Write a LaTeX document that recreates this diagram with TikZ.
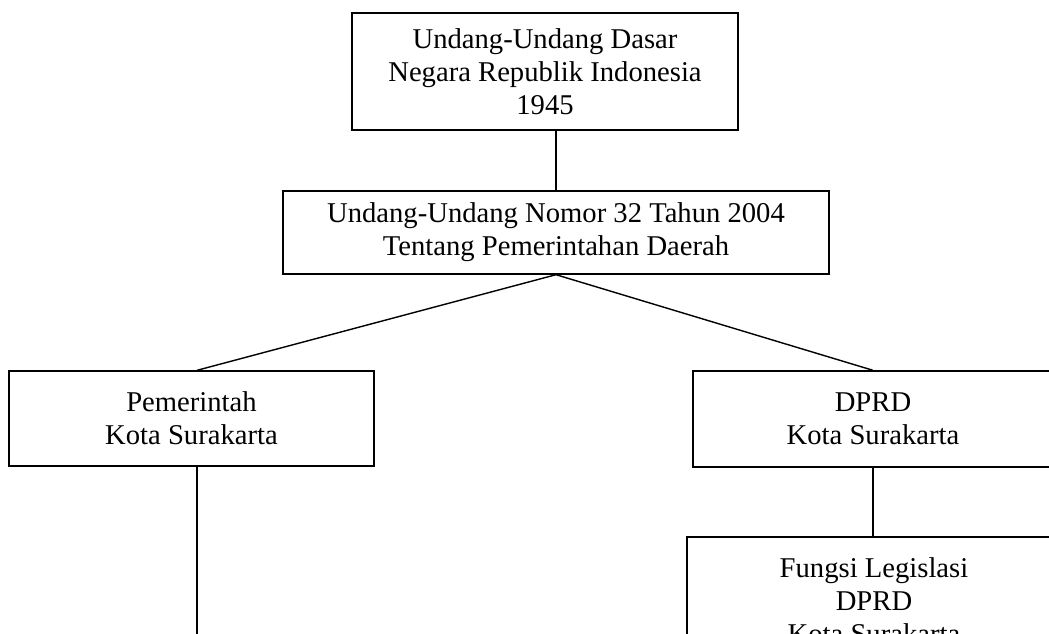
\documentclass[tikz,border=0pt]{standalone}
\usepackage{fontspec}
\setmainfont{Liberation Serif}
\usepackage{tikz}
\usetikzlibrary{positioning}
\tikzset{
         kotak/.style=
          {
           draw,
           line width=0.8pt,
           align=center,
           inner sep=2pt,
           font=\fontsize{16.3}{18.75}\selectfont
          },
         garis/.style={line width=0.8pt}
        }

\begin{document}
\begin{tikzpicture}[x=0.02cm,y=-0.02cm]

\useasboundingbox (0,0) rectangle (1049,633);
\clip (0,0) rectangle (1049,633);

%the boxes
\node[kotak,minimum width=7.72cm,minimum height=2.34cm] (uud) at (545,71.5)
{Undang-Undang Dasar\\Negara Republik Indonesia\\1945};
\node[kotak,minimum width=10.92cm,minimum height=1.66cm] (uu32) at (556,232.5)
{Undang-Undang Nomor 32 Tahun 2004\\Tentang Pemerintahan Daerah};
\node[kotak,minimum width=7.3cm,minimum height=1.9cm] (pemkot) at (191.5,418.5)
{Pemerintah\\Kota Surakarta};
\node[kotak,minimum width=7.2cm,minimum height=1.92cm] (dprd) at (873,419)
{DPRD\\Kota Surakarta};
\node[kotak,minimum width=7.48cm,minimum height=2.56cm] (legislasi) at (874,601)
{Fungsi Legislasi\\DPRD\\Kota Surakarta};

%free end of the left line
\coordinate (pemkotbawah) at (197,640);

%the lines
\draw[garis] (uu32.north) -- (uu32.north |- uud.south);
\draw[garis] (uu32.south) -- (pemkot.north -| pemkotbawah);
\draw[garis] (uu32.south) -- (dprd.north);
\draw[garis] (pemkot.south -| pemkotbawah) -- (pemkotbawah);
\draw[garis] (dprd.south) -- (dprd.south |- legislasi.north);
\end{tikzpicture}
\end{document}
